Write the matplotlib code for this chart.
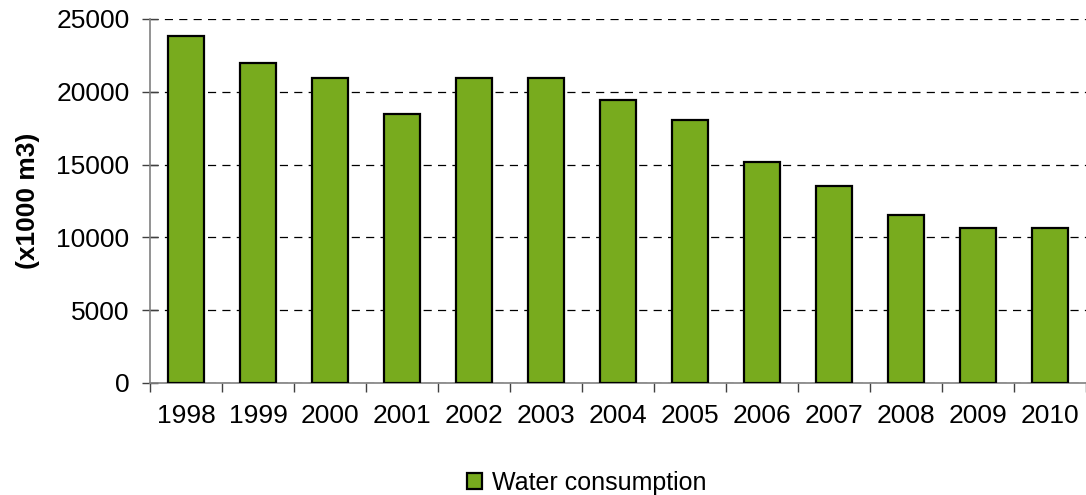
import numpy as np
import matplotlib
matplotlib.use("Agg")
import matplotlib.pyplot as plt

years = ["1998", "1999", "2000", "2001", "2002", "2003", "2004",
         "2005", "2006", "2007", "2008", "2009", "2010"]
consumption = [23850, 22000, 20950, 18500, 20950, 20950, 19450,
               18050, 15150, 13550, 11550, 10650, 10650]
y_ticks = [0, 5000, 10000, 15000, 20000, 25000]

plt.rcParams["font.family"] = ["Liberation Sans", "DejaVu Sans"]

fig = plt.figure(figsize=(10.86, 4.95), dpi=100)
ax = fig.add_axes([150 / 1086, 1 - 383 / 495, 1 - 150 / 1086, 364 / 495])

x = np.arange(len(years))
ax.bar(x, consumption, width=0.51, color="#78AB1E", edgecolor="black",
       linewidth=1.6, label="Water consumption", zorder=3)

ax.set_ylim(0, 25000)
ax.set_yticks(y_ticks)
ax.set_xlim(-0.5, len(years) - 0.5)

# boundary ticks as major (unlabelled), year labels as minor at bar centres
ax.set_xticks(np.arange(-0.5, len(years), 1.0))
ax.set_xticklabels([])
ax.set_xticks(x, minor=True)
ax.set_xticklabels(years, minor=True)
ax.tick_params(axis="x", which="major", direction="out", length=6.5,
               width=1, color="#404040")
ax.tick_params(axis="x", which="minor", length=0, pad=15, labelsize=19)
ax.tick_params(axis="y", direction="inout", length=11.5, width=1,
               color="#404040", labelsize=19, pad=9)

ax.grid(axis="y", color="black", linestyle=(0, (6.5, 5)), linewidth=0.9)
ax.set_axisbelow(True)
for side in ["top", "right"]:
    ax.spines[side].set_visible(False)
for side in ["left", "bottom"]:
    ax.spines[side].set_color("#808080")
    ax.spines[side].set_linewidth(1.2)

ax.set_ylabel("(x1000 m3)", fontsize=19, fontweight="bold", labelpad=12)

handles, labels = ax.get_legend_handles_labels()
fig.legend(handles, labels, loc="center", bbox_to_anchor=(587 / 1086, 1 - 483 / 495),
           frameon=False, fontsize=18, handlelength=0.6, handleheight=0.6,
           handletextpad=0.4)

plt.savefig("out.png", dpi=100)
plt.close()
